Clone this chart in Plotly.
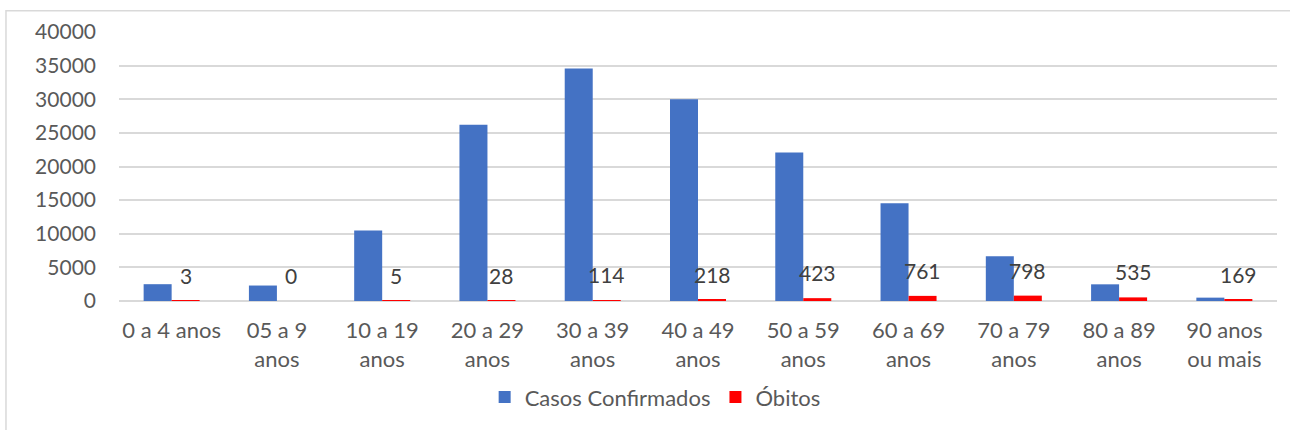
import plotly.graph_objects as go

categories = ["0 a 4 anos", "05 a 9<br>anos", "10 a 19<br>anos", "20 a 29<br>anos",
              "30 a 39<br>anos", "40 a 49<br>anos", "50 a 59<br>anos", "60 a 69<br>anos",
              "70 a 79<br>anos", "80 a 89<br>anos", "90 anos<br>ou mais"]
casos = [2500, 2300, 10500, 26200, 34570, 30000, 22100, 14550, 6650, 2480, 500]
obitos = [3, 0, 5, 28, 114, 218, 423, 761, 798, 535, 169]
y_ticks = [0, 5000, 10000, 15000, 20000, 25000, 30000, 35000, 40000]

FONT = "Lato"
GREY = "#595959"

fig = go.Figure()
fig.add_trace(go.Bar(x=categories, y=casos, name="Casos Confirmados",
                     marker=dict(color="#4472C4", line=dict(width=0))))
fig.add_trace(go.Bar(x=categories, y=obitos, name="Óbitos",
                     marker=dict(color="#FF0000", line=dict(width=0))))

# data labels for Óbitos, anchored on the Óbitos bars (right half of each group)
annotations = [dict(x=c, y=v, xref="x", yref="y", text=str(v), showarrow=False,
                    xanchor="center", yanchor="bottom", xshift=14, yshift=11,
                    font=dict(family=FONT, size=21, color="#404040"))
               for c, v in zip(categories, obitos)]

fig.update_layout(
    width=1290, height=430,
    margin=dict(l=119, r=13, t=32, b=127),
    paper_bgcolor="white", plot_bgcolor="white",
    barmode="group", bargap=0.468, bargroupgap=0,
    font=dict(family=FONT, size=21, color=GREY),
    showlegend=True,
    legend=dict(orientation="h", x=0.463, xanchor="center", y=-0.28, yanchor="top",
                font=dict(family=FONT, size=22, color=GREY),
                itemwidth=30, traceorder="normal"),
    xaxis=dict(showgrid=False, showline=False, zeroline=False, ticks="",
               tickfont=dict(family=FONT, size=22, color=GREY), ticklabelstandoff=14),
    yaxis=dict(range=[0, 40000], tickvals=y_ticks, tickformat="d", showgrid=True,
               gridcolor="#D9D9D9", gridwidth=1.5, zeroline=True, zerolinecolor="#D9D9D9",
               zerolinewidth=1.5, showline=False, ticks="",
               tickfont=dict(family=FONT, size=21, color=GREY), ticklabelstandoff=22),
    annotations=annotations,
    shapes=[dict(type="rect", xref="paper", yref="paper",
                 x0=-0.0976, x1=1.05, y0=-0.6, y1=1.0788,
                 line=dict(color="#D9D9D9", width=1.5), fillcolor="rgba(0,0,0,0)", layer="below")],
)

fig.write_html("out.html", config={"displayModeBar": False},
               post_script="document.body.style.margin='0px';")
